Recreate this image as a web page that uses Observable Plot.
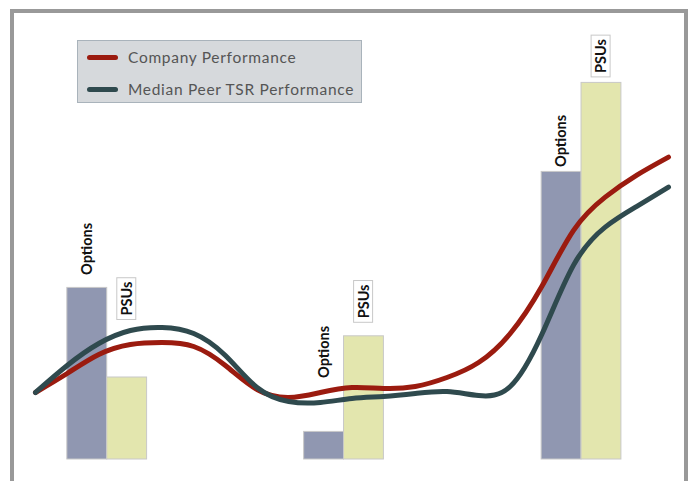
<!DOCTYPE html>
<html>
<head>
<meta charset="utf-8">
<script src="https://cdn.jsdelivr.net/npm/d3@7"></script>
<script src="https://cdn.jsdelivr.net/npm/@observablehq/plot@0.6"></script>
<style>
  body { margin: 0; background: #fff; }
  #wrap { position: relative; width: 689px; height: 481px; overflow: hidden; background: #fff; }
  #frame { position: absolute; left: 10px; top: 9px; width: 670px; height: 480px;
           border: 4px solid #999; border-bottom: none; }
  #chart { position: absolute; left: 0; top: 0; }
  #legend { position: absolute; left: 77px; top: 40px; width: 283px; height: 61px;
            background: #d6d9dc; border: 1px solid #a9b3bb;
            font-family: Lato, "Open Sans", sans-serif; font-size: 15.5px; color: #555;
            letter-spacing: 0.7px; }
  .item { position: absolute; left: 9px; height: 20px; display: flex; align-items: center; white-space: nowrap; }
  .sw { width: 31px; height: 5px; border-radius: 3px; margin-right: 10px; }
</style>
</head>
<body>
<div id="wrap">
  <div id="frame"></div>
  <div id="chart"></div>
  <div id="legend"></div>
</div>
<script>
// ---- data ----
const seriesNames = ["Company Performance", "Median Peer TSR Performance"];
const seriesColors = ["#9b1b0f", "#2f4a4e"];
const timePoints = [0, 5, 10, 15, 20, 25, 30, 35, 40, 45, 50, 55, 60, 65, 70, 75, 80, 85, 90, 95, 100];
const companyValues = [16.75, 21.5, 26.25, 28.75, 29.25, 28.25, 23.5, 17.5, 15.5, 16.75, 18, 17.75, 18.25, 20.5, 24.25, 31.5, 43.3, 57.3, 65.6, 71.1, 75.6];
const peerValues = [16.75, 23.5, 29, 32.25, 33, 31.5, 26, 18, 14.5, 14.25, 15.25, 15.75, 16.5, 17, 16, 18.25, 31.3, 48.6, 58.1, 63.3, 68.1];

const awardTypes = ["Options", "PSUs"];
const awardColors = ["#9097b1", "#e3e6ae"];
const grantTimes = [11.33, 48.74, 86.26];
const optionsValues = [42.9, 6.9, 71.9];
const psuValues = [20.5, 30.8, 94.15];
const barWidth = 6.3;
// label clearance above each bar (px), order: Options, PSUs per grant
const optionsLabelGap = [13, 54, 5];
const psuLabelGap = [62, 18, 10];

// ---- build tables ----
const lineData = [
  ...timePoints.map((t, i) => ({series: seriesNames[0], t, v: companyValues[i]})),
  ...timePoints.map((t, i) => ({series: seriesNames[1], t, v: peerValues[i]}))
];
const optionBars = grantTimes.map((g, i) => ({type: "Options", x1: g - barWidth, x2: g, v: optionsValues[i], gap: optionsLabelGap[i]}));
const psuBars = grantTimes.map((g, i) => ({type: "PSUs", x1: g, x2: g + barWidth, v: psuValues[i], gap: psuLabelGap[i]}));
const bars = [...optionBars, ...psuBars];

const chart = Plot.plot({
  width: 689,
  height: 481,
  marginLeft: 35,
  marginRight: 21,
  marginTop: 59,
  marginBottom: 22,
  x: {domain: [0, 100], axis: null},
  y: {domain: [0, 100], axis: null},
  color: {domain: awardTypes, range: awardColors},
  style: {background: "transparent"},
  marks: [
    Plot.rectY(bars, {x1: "x1", x2: "x2", y: "v", fill: "type", stroke: "#c8c8c8", strokeWidth: 1}),
    Plot.line(lineData.filter(d => d.series === seriesNames[0]), {x: "t", y: "v", stroke: seriesColors[0], strokeWidth: 5, curve: "natural", strokeLinecap: "round"}),
    Plot.line(lineData.filter(d => d.series === seriesNames[1]), {x: "t", y: "v", stroke: seriesColors[1], strokeWidth: 5, curve: "natural", strokeLinecap: "round"}),
    Plot.text(optionBars, {x: d => (d.x1 + d.x2) / 2, y: "v", text: "type", rotate: -90, textAnchor: "start",
      fontFamily: "Lato, sans-serif", fontWeight: "bold", fontSize: 14.5, fill: "#111"}),
    Plot.text(psuBars, {x: d => (d.x1 + d.x2) / 2, y: "v", text: "type", rotate: -90, textAnchor: "start",
      fontFamily: "Lato, sans-serif", fontWeight: "bold", fontSize: 14.5, fill: "#111"})
  ]
});
document.getElementById("chart").appendChild(chart);

// shift labels by their clearance and add boxes behind PSU labels
const textGroups = chart.querySelectorAll('g[aria-label="text"]');
[optionBars, psuBars].forEach((arr, gi) => {
  const texts = textGroups[gi].querySelectorAll("text");
  texts.forEach((t, i) => {
    const tr = t.getAttribute("transform");
    const m = /translate\(([-\d.]+),([-\d.]+)\)/.exec(tr);
    const nx = +m[1], ny = +m[2] - arr[i].gap;
    t.setAttribute("transform", `translate(${nx},${ny}) rotate(-90)`);
    if (gi === 1) {
      const b = t.getBBox();
      const pad = 4;
      const r = document.createElementNS("http://www.w3.org/2000/svg", "rect");
      r.setAttribute("x", b.x - pad);
      r.setAttribute("y", b.y - 1);
      r.setAttribute("width", b.width + 2 * pad);
      r.setAttribute("height", b.height + 2);
      r.setAttribute("fill", "#fff");
      r.setAttribute("stroke", "#c8c8c8");
      r.setAttribute("transform", t.getAttribute("transform"));
      t.parentNode.insertBefore(r, t);
    }
  });
});

// legend
const legend = document.getElementById("legend");
seriesNames.forEach((name, i) => {
  const it = document.createElement("div");
  it.className = "item";
  it.style.top = (i === 0 ? 6 : 38) + "px";
  it.innerHTML = `<span class="sw" style="background:${seriesColors[i]}"></span><span>${name}</span>`;
  legend.appendChild(it);
});
</script>
</body>
</html>
